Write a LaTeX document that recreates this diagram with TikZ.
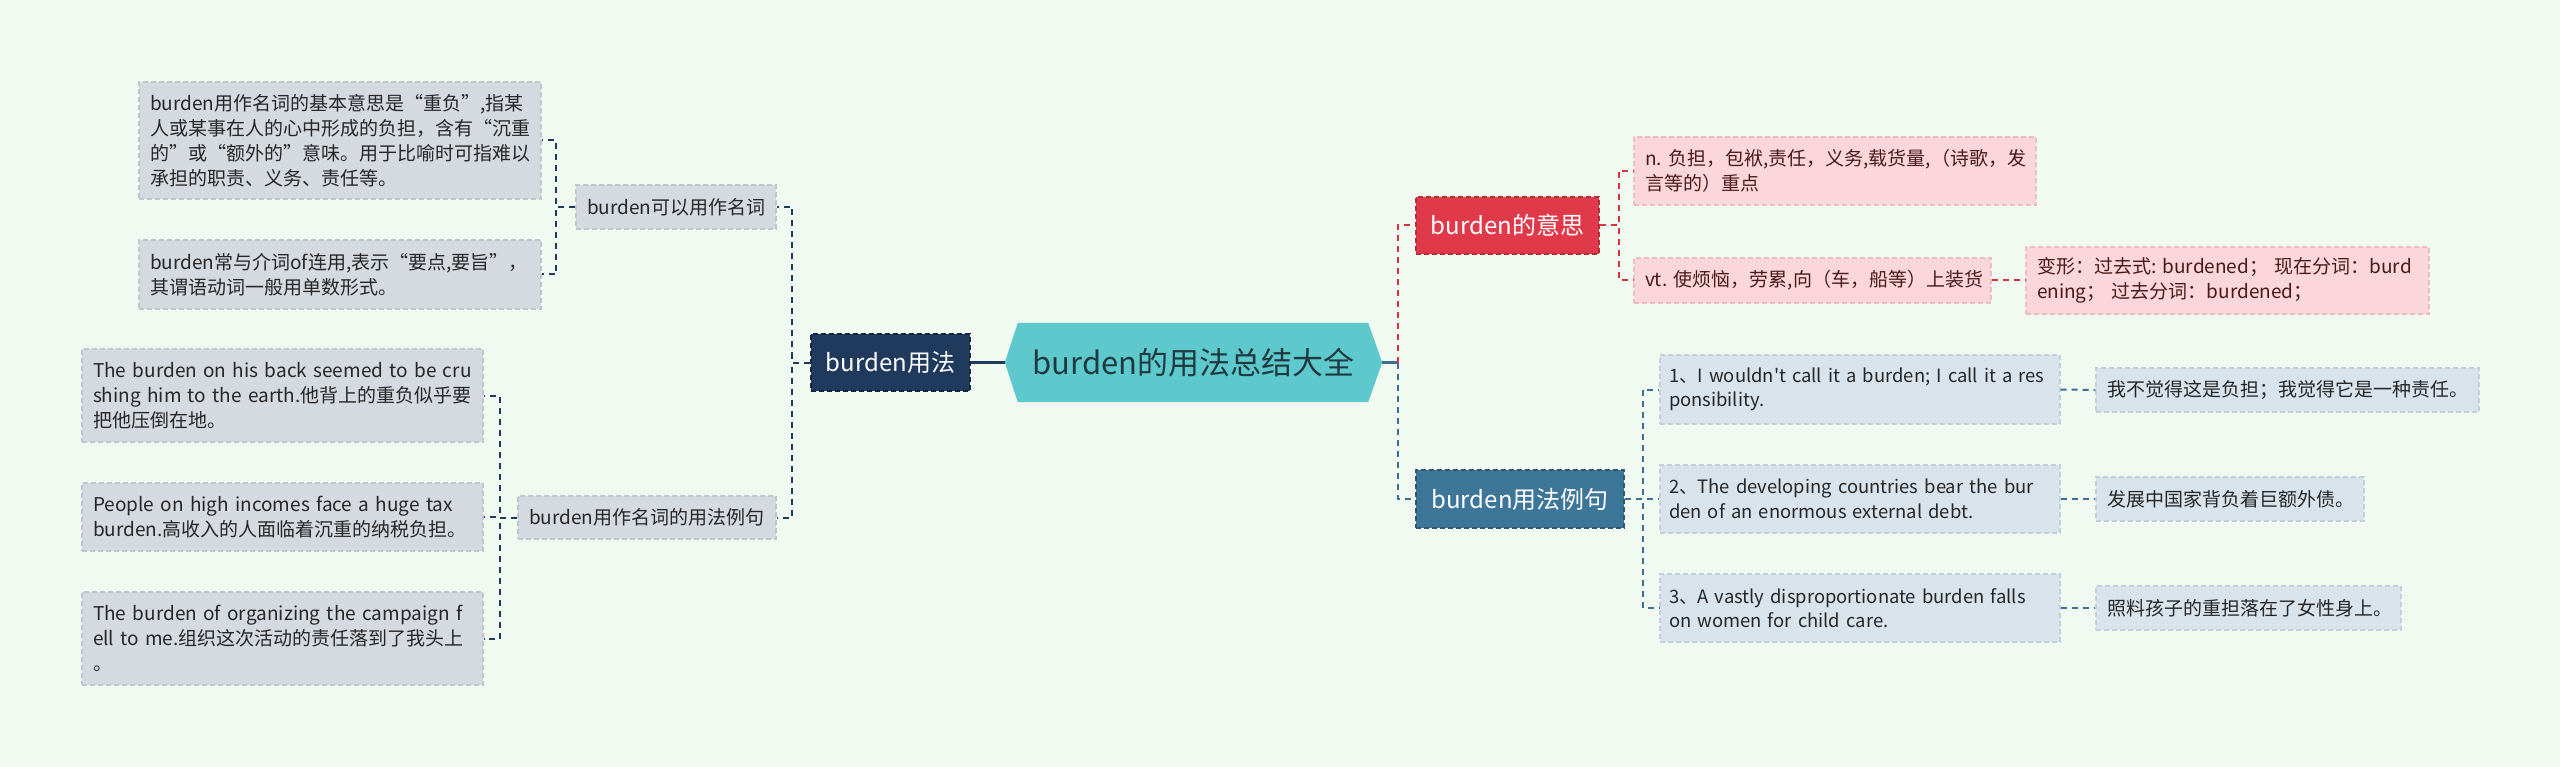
\documentclass[tikz,border=0pt]{standalone}
\usepackage{fontspec}
\setmainfont{Noto Sans CJK SC}[Ligatures=TeXOff]
\usetikzlibrary{backgrounds}
\definecolor{bgc}{HTML}{F1FAF0}
\definecolor{rootfill}{HTML}{5EC9CC}
\definecolor{roottext}{HTML}{1E3A40}
\definecolor{navy}{HTML}{1F3A5C}
\definecolor{grayfill}{HTML}{D5D9E0}
\definecolor{grayline}{HTML}{C0C5CE}
\definecolor{redfill}{HTML}{E0394A}
\definecolor{redline}{HTML}{D8323F}
\definecolor{pinkfill}{HTML}{FBD6DB}
\definecolor{pinkline}{HTML}{F0BCC4}
\definecolor{pinktext}{HTML}{4A1A1A}
\definecolor{steel}{HTML}{3E7699}
\definecolor{blueline}{HTML}{3E6E92}
\definecolor{lbfill}{HTML}{D8E3EC}
\definecolor{lbline}{HTML}{C3D0DC}
\definecolor{darktext}{HTML}{262626}
\newcommand\nbline[1]{\mbox{#1}}
\tikzset{
  boxbase/.style={rectangle, inner xsep=11pt, inner ysep=0pt, align=left,
    dash pattern=on 5pt off 3pt, line width=1.2pt,
    font=\fontsize{19pt}{25pt}\selectfont},
  graybox/.style={boxbase, fill=grayfill, draw=grayline, text=darktext},
  pinkbox/.style={boxbase, fill=pinkfill, draw=pinkline, text=pinktext},
  lbbox/.style={boxbase, fill=lbfill, draw=lbline, text=darktext},
  exbox/.style={lbbox, inner xsep=9pt, text width=382pt,
    font=\fontsize{18.4pt}{24.5pt}\selectfont},
  mainbox/.style={rectangle, inner sep=0pt, align=center,
    dash pattern=on 5pt off 3pt, line width=1.4pt, text=white,
    font=\fontsize{24pt}{28pt}\selectfont},
  conn/.style={line width=2pt, dash pattern=on 6pt off 5pt},
}
\frenchspacing
\begin{document}
\begin{tikzpicture}[x=1pt,y=1pt]
\begin{pgfonlayer}{background}
\fill[bgc] (0,0) rectangle (2560,-767);
\end{pgfonlayer}
\useasboundingbox (0,0) rectangle (2560,-767);

% root
\node[inner sep=0pt, minimum width=377pt, minimum height=79pt, text=roottext,
  font=\fontsize{31pt}{35pt}\selectfont] (root) at (1193.5,-362.5) {burden的用法总结大全};
\begin{pgfonlayer}{background}
\fill[rootfill] (root.west) -- ([xshift=13pt]root.north west) -- ([xshift=-14pt]root.north east)
  -- (root.east) -- ([xshift=-14pt]root.south east) -- ([xshift=13pt]root.south west) -- cycle;
\end{pgfonlayer}

% left branch
\node[mainbox, fill=navy, draw=navy!70!black, minimum width=159pt, minimum height=57pt]
  (B1) at (890.5,-362.5) {burden用法};
\node[graybox, minimum height=44pt, text width=178pt] (M1) at (676,-207) {burden可以用作名词};
\node[graybox, minimum height=43pt, text width=236pt] (M2) at (647,-517.5) {burden用作名词的用法例句};

\node[graybox, minimum height=117pt, text width=380pt] (L1a) at (340,-140.5)
  {burden用作名词的基本意思是“重负”,指某\\人或某事在人的心中形成的负担，含有“沉重\\的”或“额外的”意味。用于比喻时可指难以\\承担的职责、义务、责任等。};
\node[graybox, minimum height=69pt, text width=380pt] (L1b) at (340,-274.5)
  {burden常与介词of连用,表示“要点,要旨”，\\其谓语动词一般用单数形式。};

\node[graybox, minimum height=93pt, text width=379pt] (L2a) at (282.5,-395.5)
  {\nbline{The burden on his back seemed to be cru}\\\nbline{shing him to the earth.他背上的重负似乎要}\\把他压倒在地。};
\node[graybox, minimum height=68pt, text width=379pt] (L2b) at (282.5,-517)
  {\nbline{People on high incomes face a huge tax}\\burden.高收入的人面临着沉重的纳税负担。};
\node[graybox, minimum height=93pt, text width=379pt] (L2c) at (282.5,-638.5)
  {\nbline{The burden of organizing the campaign f}\\\nbline{ell to me.组织这次活动的责任落到了我头上}\\。};

% right branch
\node[mainbox, fill=redfill, draw=redfill!80!black, minimum width=183pt, minimum height=57pt]
  (R1) at (1507.5,-225.5) {burden的意思};
\node[mainbox, fill=steel, draw=steel!75!black, minimum width=208pt, minimum height=58pt]
  (R2) at (1520,-499) {burden用法例句};

\node[pinkbox, minimum height=68pt, text width=380pt] (P1) at (1835,-171)
  {n. 负担，包袱,责任，义务,载货量,（诗歌，发\\言等的）重点};
\node[pinkbox, minimum height=45pt, text width=335pt] (P2) at (1812.5,-280.5)
  {vt. 使烦恼，劳累,向（车，船等）上装货};
\node[pinkbox, minimum height=67pt, text width=381pt] (P3) at (2227.5,-280.5)
  {\nbline{变形：过去式: burdened； 现在分词：burd}\\ening； 过去分词：burdened；};

\node[exbox, minimum height=69pt] (E1) at (1860,-389.5)
  {\nbline{1、I wouldn't call it a burden; I call it a res}\\ponsibility.};
\node[exbox, minimum height=68pt] (E2) at (1860,-499)
  {\nbline{2、The developing countries bear the bur}\\den of an enormous external debt.};
\node[exbox, minimum height=68pt] (E3) at (1860,-608)
  {\nbline{3、A vastly disproportionate burden falls}\\on women for child care.};

\node[lbbox, minimum height=44pt, text width=361pt] (C1) at (2287.5,-390) {我不觉得这是负担；我觉得它是一种责任。};
\node[lbbox, minimum height=44pt, text width=246pt] (C2) at (2230,-499) {发展中国家背负着巨额外债。};
\node[lbbox, minimum height=44pt, text width=283pt] (C3) at (2248.5,-608) {照料孩子的重担落在了女性身上。};

% connectors
\draw[line width=2.4pt, navy] (root.west) -- (B1.east);
\coordinate (rj) at (1398,-362.5);
\draw[line width=2.4pt, blueline] (root.east) -- (rj);

\draw[conn, navy] (B1.west) -- ++(-18pt,0) |- (M1.east);
\draw[conn, navy] (B1.west) -- ++(-18pt,0) |- (M2.east);
\draw[conn, navy] (M1.west) -- ++(-19pt,0) |- (L1a.east);
\draw[conn, navy] (M1.west) -- ++(-19pt,0) |- (L1b.east);
\draw[conn, navy] (M2.west) -- ++(-17pt,0) |- (L2a.east);
\draw[conn, navy] (M2.west) -- ++(-17pt,0) |- (L2b.east);
\draw[conn, navy] (M2.west) -- ++(-17pt,0) |- (L2c.east);

\draw[conn, redline] (rj) |- (R1.west);
\draw[conn, blueline] (rj) |- (R2.west);
\draw[conn, redline] (R1.east) -- ++(19pt,0) |- (P1.west);
\draw[conn, redline] (R1.east) -- ++(19pt,0) |- (P2.west);
\draw[conn, redline] (P2.east) -- (P3.west);
\draw[conn, blueline] (R2.east) -- ++(18pt,0) |- (E1.west);
\draw[conn, blueline] (R2.east) -- ++(18pt,0) |- (E2.west);
\draw[conn, blueline] (R2.east) -- ++(18pt,0) |- (E3.west);
\draw[conn, blueline] (E1.east) -- (C1.west);
\draw[conn, blueline] (E2.east) -- (C2.west);
\draw[conn, blueline] (E3.east) -- (C3.west);
\end{tikzpicture}
\end{document}
